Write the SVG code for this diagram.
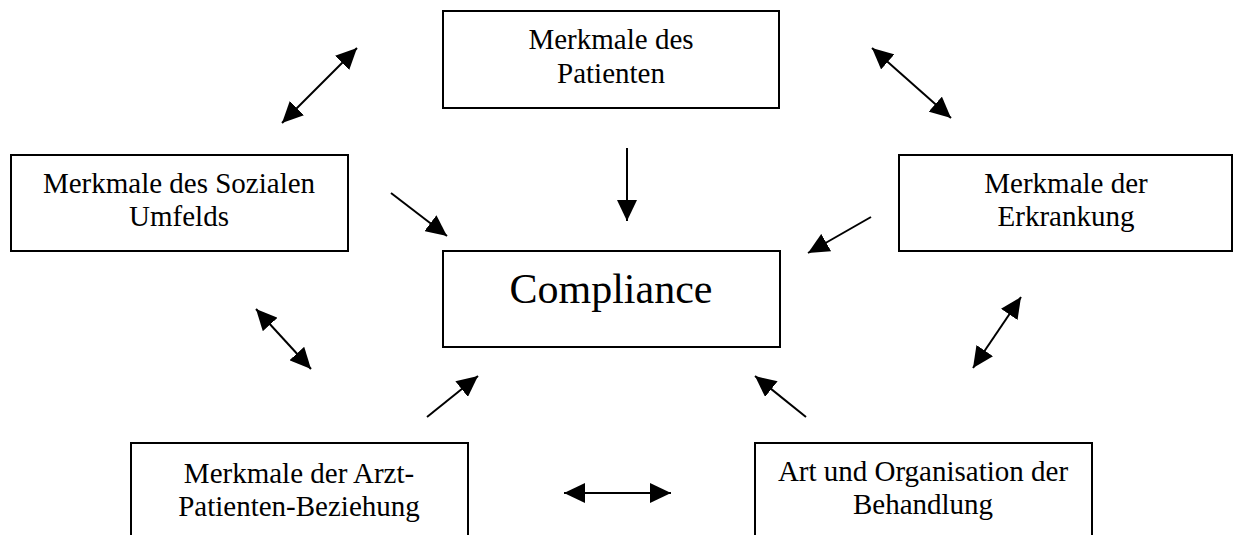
<svg xmlns="http://www.w3.org/2000/svg" width="1234" height="535" viewBox="0 0 1234 535">
<style>
.box{fill:#fff;stroke:#000;stroke-width:2}
.t{font-family:"Liberation Serif","Times New Roman",serif;font-size:29px;fill:#000;text-anchor:middle}
.big{font-size:42px}
.c{stroke:#000;stroke-width:2;fill:none}
.one{marker-end:url(#ah)}
.two{marker-start:url(#ah);marker-end:url(#ah)}
</style>
<defs>
<marker id="ah" markerUnits="userSpaceOnUse" markerWidth="22" markerHeight="20" refX="21" refY="10" orient="auto-start-reverse">
<path d="M0,0 L21,10 L0,20 z" fill="#000"/>
</marker>
</defs>
<rect width="1234" height="535" fill="#fff"/>
<g id="connectors">
<path class="c two" d="M282,123 L357,48"/>
<path class="c two" d="M872,48 L951,118"/>
<path class="c one" d="M627,148 L627,221"/>
<path class="c one" d="M391,193 L447,236"/>
<path class="c one" d="M871,217 L808,253"/>
<path class="c two" d="M256,309 L311,369"/>
<path class="c two" d="M1021,297 L973,368"/>
<path class="c one" d="M427,417 L478,376"/>
<path class="c one" d="M806,417 L755,376"/>
<path class="c two" d="M564,493 L671,493"/>
</g>
<g id="patient">
<rect class="box" x="443" y="11" width="336" height="97"/>
<text class="t" x="611" y="49">Merkmale des</text>
<text class="t" x="611" y="83">Patienten</text>
</g>
<g id="sozial">
<rect class="box" x="11" y="155" width="337" height="96"/>
<text class="t" x="179" y="193">Merkmale des Sozialen</text>
<text class="t" x="179" y="226">Umfelds</text>
</g>
<g id="erkrankung">
<rect class="box" x="899" y="155" width="333" height="96"/>
<text class="t" x="1066" y="193">Merkmale der</text>
<text class="t" x="1066" y="226">Erkrankung</text>
</g>
<g id="compliance">
<rect class="box" x="443" y="251" width="337" height="96"/>
<text class="t big" x="611" y="303">Compliance</text>
</g>
<g id="arzt">
<rect class="box" x="131" y="443" width="337" height="110"/>
<text class="t" x="299" y="483">Merkmale der Arzt-</text>
<text class="t" x="299" y="516">Patienten-Beziehung</text>
</g>
<g id="behandlung">
<rect class="box" x="755" y="443" width="337" height="110"/>
<text class="t" x="923" y="481">Art und Organisation der</text>
<text class="t" x="923" y="514">Behandlung</text>
</g>
</svg>
